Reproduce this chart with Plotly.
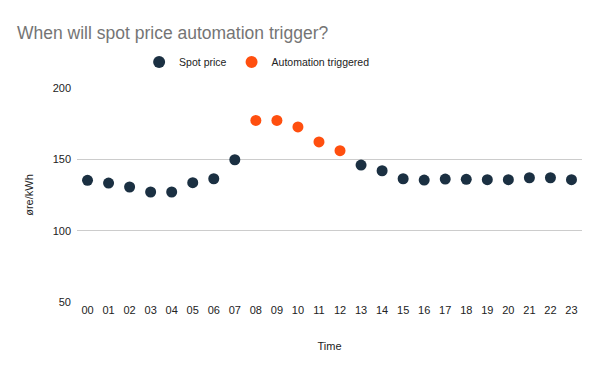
import plotly.graph_objects as go

hours = ["00","01","02","03","04","05","06","07","08","09","10","11",
         "12","13","14","15","16","17","18","19","20","21","22","23"]
spot_hours = ["00","01","02","03","04","05","06","07",
              "13","14","15","16","17","18","19","20","21","22","23"]
spot_values = [135.3,133.4,130.6,127.1,127.1,133.6,136.4,149.7,
               146.0,142.0,136.4,135.5,136.2,136.0,135.7,135.7,137.1,137.1,135.7]
trig_hours = ["08","09","10","11","12"]
trig_values = [177.3,177.3,172.7,162.2,156.1]
y_ticks = [50,100,150,200]

fig = go.Figure()
fig.add_trace(go.Scatter(x=spot_hours, y=spot_values, mode="markers", name="Spot price",
                         marker=dict(color="#1b3042", size=11)))
fig.add_trace(go.Scatter(x=trig_hours, y=trig_values, mode="markers", name="Automation triggered",
                         marker=dict(color="#ff4f0f", size=11)))

font_family = "Liberation Sans, Arial, sans-serif"
# page body has an 8px margin; figure sized to fill the remaining window
fig.update_layout(
    width=592, height=363,
    paper_bgcolor="white", plot_bgcolor="white",
    margin=dict(l=69, r=18, t=80, b=69, autoexpand=False),
    font=dict(family=font_family, color="#222222", size=11),
    title=dict(text="When will spot price automation trigger?", xref="container", x=9/592,
               xanchor="left", yref="container", y=0.931, yanchor="middle",
               font=dict(family=font_family, size=17.5, color="#757575")),
    legend=dict(orientation="h", x=0.123, xanchor="left", y=1.121, yanchor="middle",
                font=dict(size=10.5, color="#222222"), itemsizing="constant"),
    showlegend=True,
)
fig.update_xaxes(type="category", categoryorder="array", categoryarray=hours,
                 range=[-0.5, 23.5], showgrid=False, showline=False, zeroline=False,
                 automargin=False, ticks="",
                 title=dict(text="Time", font=dict(size=11, color="#222222"), standoff=27),
                 tickfont=dict(size=11, color="#222222"))
fig.update_yaxes(range=[50, 200], tickvals=y_ticks, showgrid=True, gridcolor="#cccccc",
                 gridwidth=1, zeroline=False, showline=False, ticks="", automargin=False,
                 ticklabelstandoff=5,
                 title=dict(text="øre/kWh", font=dict(size=11, color="#222222"), standoff=16),
                 tickfont=dict(size=11, color="#222222"))

fig.write_html("out.html")
